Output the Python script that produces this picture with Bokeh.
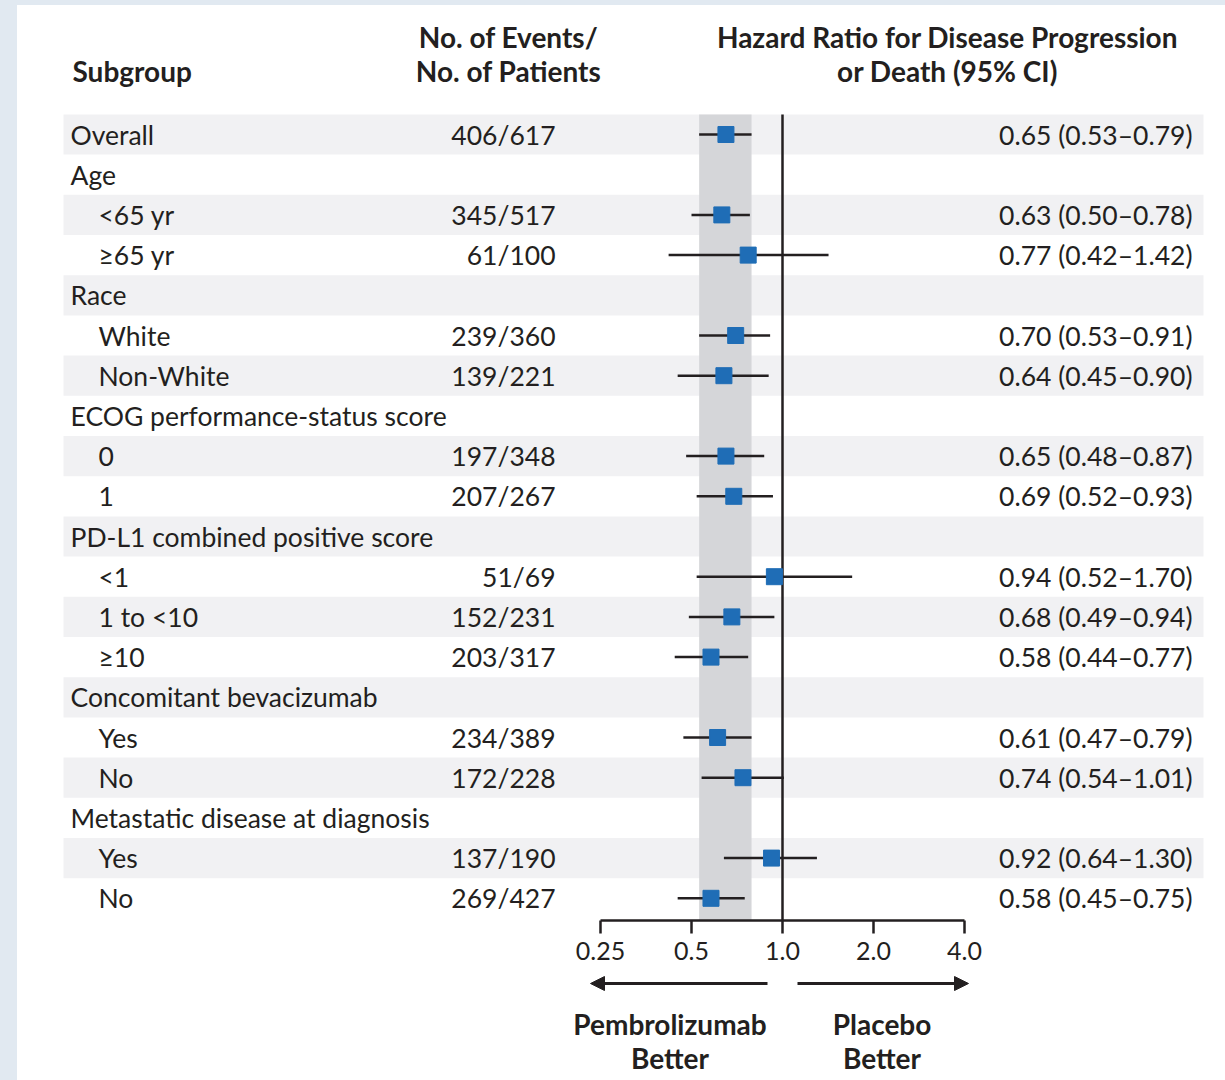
from bokeh.plotting import figure
from bokeh.models import Range1d, FixedTicker, Arrow, NormalHead, ColumnDataSource, Spacer
from bokeh.layouts import column, row
from bokeh.embed import file_html
from bokeh.resources import INLINE
from bokeh.core.properties import value

# ---------------- data ----------------
subgroups = ["Overall", "Age", "<65 yr", "\u226565 yr", "Race", "White", "Non-White",
             "ECOG performance-status score", "0", "1", "PD-L1 combined positive score",
             "<1", "1 to <10", "\u226510", "Concomitant bevacizumab", "Yes", "No",
             "Metastatic disease at diagnosis", "Yes", "No"]
level = [0, 0, 1, 1, 0, 1, 1, 0, 1, 1, 0, 1, 1, 1, 0, 1, 1, 0, 1, 1]
events = [406, None, 345, 61, None, 239, 139, None, 197, 207, None, 51, 152, 203, None, 234, 172, None, 137, 269]
patients = [617, None, 517, 100, None, 360, 221, None, 348, 267, None, 69, 231, 317, None, 389, 228, None, 190, 427]
hr = [0.65, None, 0.63, 0.77, None, 0.70, 0.64, None, 0.65, 0.69, None, 0.94, 0.68, 0.58, None, 0.61, 0.74, None, 0.92, 0.58]
ci_low = [0.53, None, 0.50, 0.42, None, 0.53, 0.45, None, 0.48, 0.52, None, 0.52, 0.49, 0.44, None, 0.47, 0.54, None, 0.64, 0.45]
ci_high = [0.79, None, 0.78, 1.42, None, 0.91, 0.90, None, 0.87, 0.93, None, 1.70, 0.94, 0.77, None, 0.79, 1.01, None, 1.30, 0.75]
tick_values = [0.25, 0.5, 1, 2, 4]
tick_labels = ["0.25", "0.5", "1.0", "2.0", "4.0"]
header_texts = ["Subgroup", "No. of Events/", "No. of Patients",
                "Hazard Ratio for Disease Progression", "or Death (95% CI)"]
footer_texts = ["Pembrolizumab", "Better", "Placebo", "Better"]

# ---------------- styles ----------------
BG = "#e1e9f1"
TXT = "#231f20"
BLUE = "#1f6db6"
STRIPE = "#f1f1f3"
BAND = "#d5d6d9"
FONT = "Lato"
FS = "26.5px"
HFS = "28px"

# layout helpers (page pixel -> data coordinate)
PX_ONE = 782.0      # page x of HR = 1
PX_DBL = 91.0       # pixels per doubling
ROW0 = 134.0        # page y of first row
ROWH = 40.2         # row pitch


def xs(px):
    return 2 ** ((px - PX_ONE) / PX_DBL)


def ys(py):
    return (py - ROW0) / ROWH


xr = Range1d(xs(17), xs(1225))
p = figure(width=1208, height=967, x_axis_type="log",
           x_range=xr, y_range=Range1d(ys(920), ys(5)),
           output_backend="svg", toolbar_location=None, y_axis_location=None,
           min_border_left=0, min_border_right=0, min_border_top=0, min_border_bottom=52,
           background_fill_color="white", border_fill_color="white", outline_line_color=None)
p.grid.visible = False

n = len(subgroups)
rows = list(range(n))

# stripes
stripe_rows = [i for i in rows if i % 2 == 0]
p.quad(left=xs(63), right=xs(1203), bottom=[i + 0.5 for i in stripe_rows],
       top=[i - 0.5 for i in stripe_rows], fill_color=STRIPE, line_color=None)

# overall CI band
p.quad(left=[ci_low[0]], right=[ci_high[0]], top=[-0.5], bottom=[ys(925)],
       fill_color=BAND, line_color=None)

# reference line at HR = 1
p.segment(x0=[1], x1=[1], y0=[-0.5], y1=[ys(925)], line_color=TXT, line_width=2.5)

# CIs and points
est = [i for i in rows if hr[i] is not None]
src = ColumnDataSource(dict(y=est, hr=[hr[i] for i in est],
                            lo=[ci_low[i] for i in est], hi=[ci_high[i] for i in est]))
p.segment(x0="lo", x1="hi", y0="y", y1="y", source=src, line_color=TXT, line_width=2.5)
p.scatter(x="hr", y="y", source=src, marker="square", size=16, fill_color=BLUE, line_color=BLUE)

# text columns
lab_src = ColumnDataSource(dict(x=[xs(70) if lv == 0 else xs(98) for lv in level], y=rows, t=subgroups))
p.text(x="x", y="y", text="t", source=lab_src, text_font=value(FONT), text_font_size=FS,
       text_align="left", text_baseline="middle", text_color=TXT)

ev_src = ColumnDataSource(dict(x=[xs(555)] * len(est), y=est,
                               t=[f"{events[i]}/{patients[i]}" for i in est]))
p.text(x="x", y="y", text="t", source=ev_src, text_font=value(FONT), text_font_size=FS,
       text_align="right", text_baseline="middle", text_color=TXT)

hr_src = ColumnDataSource(dict(x=[xs(1192)] * len(est), y=est,
                               t=[f"{hr[i]:.2f} ({ci_low[i]:.2f}\u2013{ci_high[i]:.2f})" for i in est]))
p.text(x="x", y="y", text="t", source=hr_src, text_font=value(FONT), text_font_size=FS,
       text_align="right", text_baseline="middle", text_color=TXT)

# headers
hd_src = ColumnDataSource(dict(
    x=[xs(72), xs(508), xs(508), xs(947), xs(947)],
    y=[ys(70), ys(36), ys(70), ys(36), ys(70)],
    t=header_texts,
    a=["left", "center", "center", "center", "center"]))
p.text(x="x", y="y", text="t", source=hd_src, text_font=value(FONT), text_font_size=HFS,
       text_font_style="bold", text_align="a", text_baseline="middle", text_color=TXT)

# axis
ax = p.xaxis[0]
ax.ticker = FixedTicker(ticks=tick_values)
ax.bounds = (tick_values[0], tick_values[-1])
ax.major_label_overrides = dict(zip(tick_values, tick_labels))
ax.axis_line_width = 2.5
ax.axis_line_color = TXT
ax.major_tick_line_width = 2.5
ax.major_tick_line_color = TXT
ax.major_tick_in = 0
ax.major_tick_out = 13
ax.minor_tick_line_color = None
ax.major_label_standoff = 8
ax.major_label_text_font = FONT
ax.major_label_text_font_size = "25px"
ax.major_label_text_color = TXT

# ---------------- footer figure (direction arrows) ----------------
p2 = figure(width=1208, height=108, x_axis_type="log", x_range=xr, y_range=Range1d(1080, 972),
            output_backend="svg", toolbar_location=None, x_axis_location=None, y_axis_location=None,
            min_border_left=0, min_border_right=0, min_border_top=0, min_border_bottom=0,
            background_fill_color="white", border_fill_color="white", outline_line_color=None)
p2.grid.visible = False

for x0, x1 in [(767, 590), (797, 968)]:
    p2.add_layout(Arrow(x_start=xs(x0), y_start=983, x_end=xs(x1), y_end=983,
                        line_width=3, line_color=TXT,
                        end=NormalHead(size=14, fill_color=TXT, line_color=TXT, line_width=1)))

ft_src = ColumnDataSource(dict(x=[xs(669.5), xs(669.5), xs(881.5), xs(881.5)],
                               y=[1023, 1057, 1023, 1057], t=footer_texts))
p2.text(x="x", y="y", text="t", source=ft_src, text_font=value(FONT), text_font_size=HFS,
        text_font_style="bold", text_align="center", text_baseline="middle", text_color=TXT)

top = Spacer(width=1225, height=5, styles={"background-color": BG})
left = Spacer(width=17, height=1075, styles={"background-color": BG})
root = column(top, row(left, column(p, p2)))

open("out.html", "w").write(file_html(root, INLINE))
